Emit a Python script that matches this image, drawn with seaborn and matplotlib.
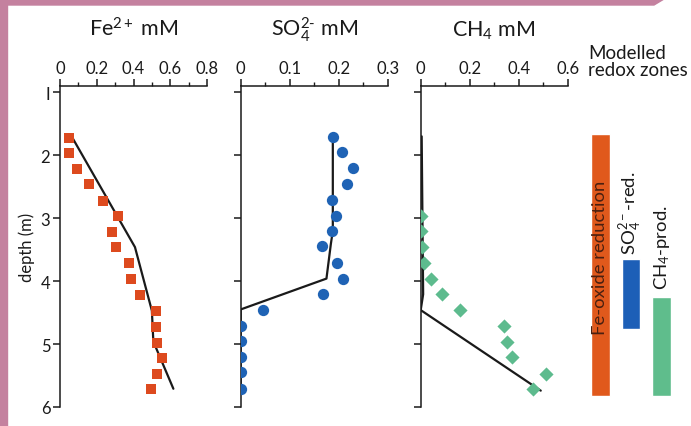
import numpy as np
import pandas as pd
import matplotlib
matplotlib.use("Agg")
import matplotlib.pyplot as plt
from matplotlib.patches import Polygon, Rectangle
from matplotlib.ticker import MultipleLocator
import seaborn as sns

# ---- measured profiles (depth in m) ----
fe_depth = [1.73, 1.96, 2.22, 2.46, 2.72, 2.97, 3.22, 3.46, 3.72, 3.97, 4.22, 4.47, 4.73, 4.98, 5.22, 5.47, 5.71]
fe_conc = [0.05, 0.05, 0.09, 0.156, 0.232, 0.316, 0.283, 0.305, 0.374, 0.388, 0.435, 0.52, 0.52, 0.526, 0.557, 0.53, 0.494]

so4_depth = [1.71, 1.95, 2.20, 2.46, 2.71, 2.97, 3.21, 3.45, 3.72, 3.96, 4.21, 4.46, 4.72, 4.95, 5.20, 5.45, 5.71]
so4_conc = [0.188, 0.207, 0.229, 0.217, 0.186, 0.195, 0.187, 0.165, 0.196, 0.208, 0.167, 0.046, 0.0, 0.0, 0.0, 0.0, 0.0]

ch4_depth = [2.97, 3.21, 3.46, 3.72, 3.97, 4.21, 4.46, 4.72, 4.96, 5.20, 5.47, 5.72]
ch4_conc = [0.0, 0.0, 0.007, 0.013, 0.041, 0.086, 0.16, 0.34, 0.351, 0.374, 0.511, 0.46]

# ---- model lines ----
fe_model_depth = [1.73, 3.46, 4.47, 4.96, 5.71]
fe_model_conc = [0.069, 0.408, 0.50, 0.508, 0.617]

so4_model_depth = [1.71, 3.20, 3.41, 3.96, 4.45, 5.72]
so4_model_conc = [0.188, 0.188, 0.184, 0.175, 0.0, 0.0]

ch4_model_depth = [1.70, 4.21, 4.46, 5.74]
ch4_model_conc = [0.004, 0.01, 0.0, 0.49]

# ---- modelled redox zones ----
zone_names = ["Fe-oxide reduction", "SO$_4^{2-}$-red.", "CH$_4$-prod."]
zone_top = [1.66, 3.65, 4.25]
zone_bottom = [5.83, 4.76, 5.83]

sns.set_theme(style="white")
plt.rcParams["font.family"] = ["Lato", "DejaVu Sans"]
plt.rcParams["mathtext.fontset"] = "custom"
plt.rcParams["mathtext.rm"] = "Lato"
plt.rcParams["mathtext.it"] = "Lato:italic"

fe_col = "#DD4A1E"
so4_col = "#1F63B5"
ch4_col = "#5DBB8E"
ink = "#1a1a1a"

W, H = 691, 427
fig = plt.figure(figsize=(W / 100, H / 100), dpi=100)
fig.patch.set_facecolor("white")


def px_axes(x0, x1, ytop, ybot):
    return fig.add_axes([x0 / W, 1 - ybot / H, (x1 - x0) / W, (ybot - ytop) / H])


panels = [
    (60, 207, "Fe$^{2+}$ mM", 0.8, 0.2, fe_conc, fe_depth, fe_model_conc, fe_model_depth, "s", fe_col, 62),
    (240.7, 387.7, "SO$_4^{2\u2010}$ mM", 0.3, 0.1, so4_conc, so4_depth, so4_model_conc, so4_model_depth, "o", so4_col, 66),
    (420.7, 567.7, "CH$_4$ mM", 0.6, 0.2, ch4_conc, ch4_depth, ch4_model_conc, ch4_model_depth, "D", ch4_col, 52),
]

for i, (x0, x1, title, xmax, step, xc, yd, mc, md, mk, col, sz) in enumerate(panels):
    ax = px_axes(x0, x1, 87, 408)
    ax.set_facecolor("none")
    sns.lineplot(x=mc, y=md, sort=False, estimator=None, color=ink, lw=1.6, ax=ax, zorder=2)
    sns.scatterplot(x=xc, y=yd, marker=mk, color=col, s=sz, linewidth=0, ax=ax, zorder=3)
    ax.set_xlim(0, xmax)
    ax.set_ylim(6, 0.9)
    ax.xaxis.tick_top()
    ax.xaxis.set_major_locator(MultipleLocator(step))
    ax.xaxis.set_minor_locator(MultipleLocator(step / 2))
    ax.set_xticklabels([f"{v:g}" for v in ax.get_xticks()])
    ax.set_yticks([1, 2, 3, 4, 5, 6])
    for s in ["right", "bottom"]:
        ax.spines[s].set_visible(False)
    for s in ["left", "top"]:
        ax.spines[s].set_color(ink)
        ax.spines[s].set_linewidth(1.1)
    ax.tick_params(axis="x", which="major", direction="out", length=5, width=1.1, color=ink,
                   labelsize=12, pad=2, top=True, bottom=False, labelcolor=ink)
    ax.tick_params(axis="x", which="minor", direction="out", length=3, width=1.0, color=ink,
                   top=True, bottom=False)
    ax.tick_params(axis="y", direction="out", length=5, width=1.1, color=ink, left=True,
                   labelsize=12, pad=2, labelcolor=ink)
    ax.set_xlabel("")
    if i == 0:
        ax.set_ylabel("depth (m)", fontsize=12, color=ink, labelpad=4)
        ax.set_yticklabels(["I", "2", "3", "4", "5", "6"])
    else:
        ax.set_ylabel("")
        ax.set_yticklabels([])
    ax.set_title(title, fontsize=15.5, color=ink, pad=18)

# redox zone bars
zax = px_axes(585, 677, 87, 408)
zax.set_facecolor("none")
zone_x = [0, 1, 2]
zone_col = ["#E0591C", "#1D5FB7", "#5FBD8C"]
zax.bar(zone_x, np.array(zone_bottom) - np.array(zone_top), bottom=zone_top, width=0.6, color=zone_col)
zax.set_xlim(-0.5, 2.5)
zax.set_ylim(6, 0.9)
zax.axis("off")
zax.text(0, 3.62, zone_names[0], rotation=90, ha="center", va="center", fontsize=13.3, color="#4a2010")
zax.text(1, zone_top[1] - 0.08, zone_names[1], rotation=90, ha="center", va="bottom", fontsize=13.3, color=ink)
zax.text(2, zone_top[2] - 0.12, zone_names[2], rotation=90, ha="center", va="bottom", fontsize=13.3, color=ink)
fig.text(588 / W, 1 - 62 / H, "Modelled\nredox zones", ha="left", va="center", fontsize=13.5,
         color=ink, linespacing=1.05)

# pink frame
pink = "#C4819F"
fig.patches.append(Rectangle((0, 0), 7 / W, 1, transform=fig.transFigure, color=pink, zorder=0))
fig.patches.append(Polygon([(0, 1), (664 / W, 1), (654 / W, 1 - 6 / H), (0, 1 - 6 / H)],
                           closed=True, transform=fig.transFigure, color=pink, zorder=0))

fig.savefig("out.png", dpi=100)
